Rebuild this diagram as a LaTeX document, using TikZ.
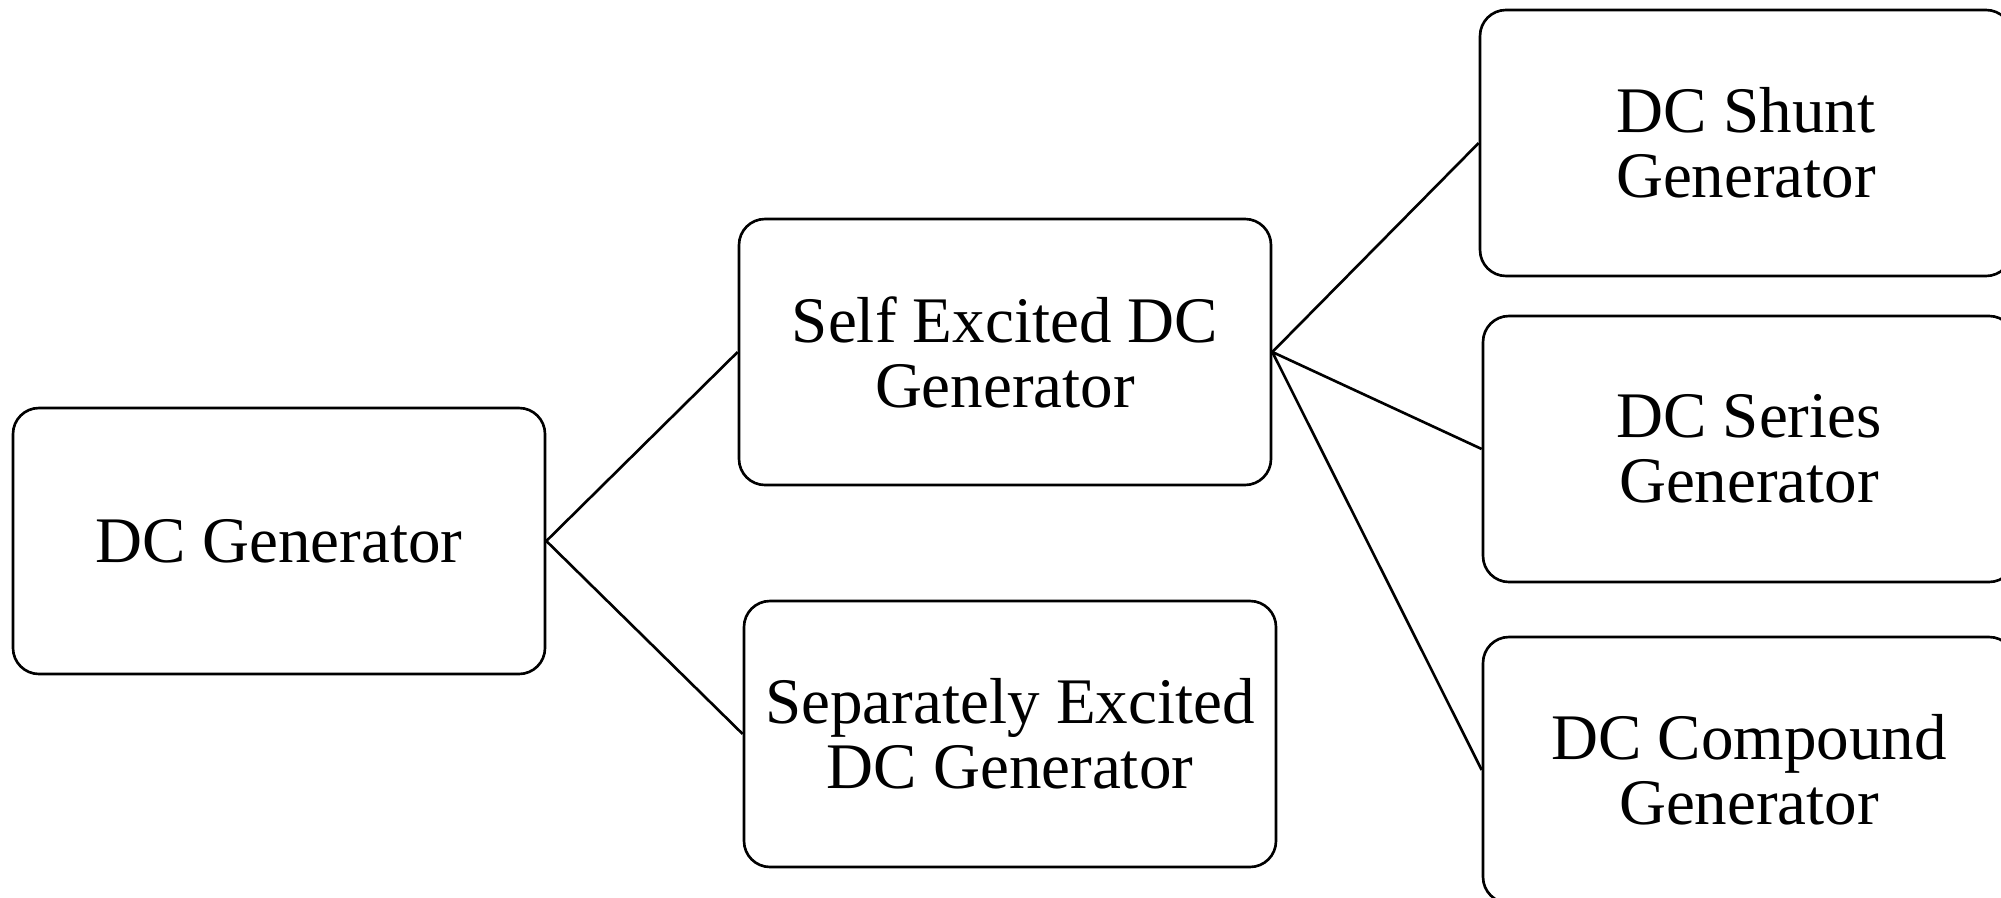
\documentclass[tikz,border=0pt]{standalone}
\usepackage{fontspec}
\setmainfont{Liberation Serif}
\usetikzlibrary{positioning}

\begin{document}
\begin{tikzpicture}[
        genbox/.style={draw, line width=0.75pt, rounded corners=0.26cm,
            minimum width=5.32cm, minimum height=2.66cm, align=center,
            font=\fontsize{18.5}{18.5}\selectfont},
        link/.style={line width=0.75pt}]
                \clip (0,0) rectangle (20.01,-8.98);
                \useasboundingbox (0,0) rectangle (20.01,-8.98);
                \node[genbox] (gen) at (2.79,-5.41) {DC Generator};
                \node[genbox] (self) at (10.05,-3.52) {Self Excited DC\\Generator};
                \node[genbox] (sep) at (10.10,-7.34) {Separately Excited\\DC Generator};
                \node[genbox] (shunt) at (17.46,-1.43) {DC Shunt\\Generator};
                \node[genbox] (series) at (17.49,-4.49) {DC Series\\Generator};
                \node[genbox] (compound) at (17.49,-7.70) {DC Compound\\Generator};
                \draw[link] (gen.east) -- (self.west);
                \draw[link] (gen.east) -- (sep.west);
                \draw[link] (self.east) -- (shunt.west);
                \draw[link] (self.east) -- (series.west);
                \draw[link] (self.east) -- (compound.west);
            \end{tikzpicture}
\end{document}
